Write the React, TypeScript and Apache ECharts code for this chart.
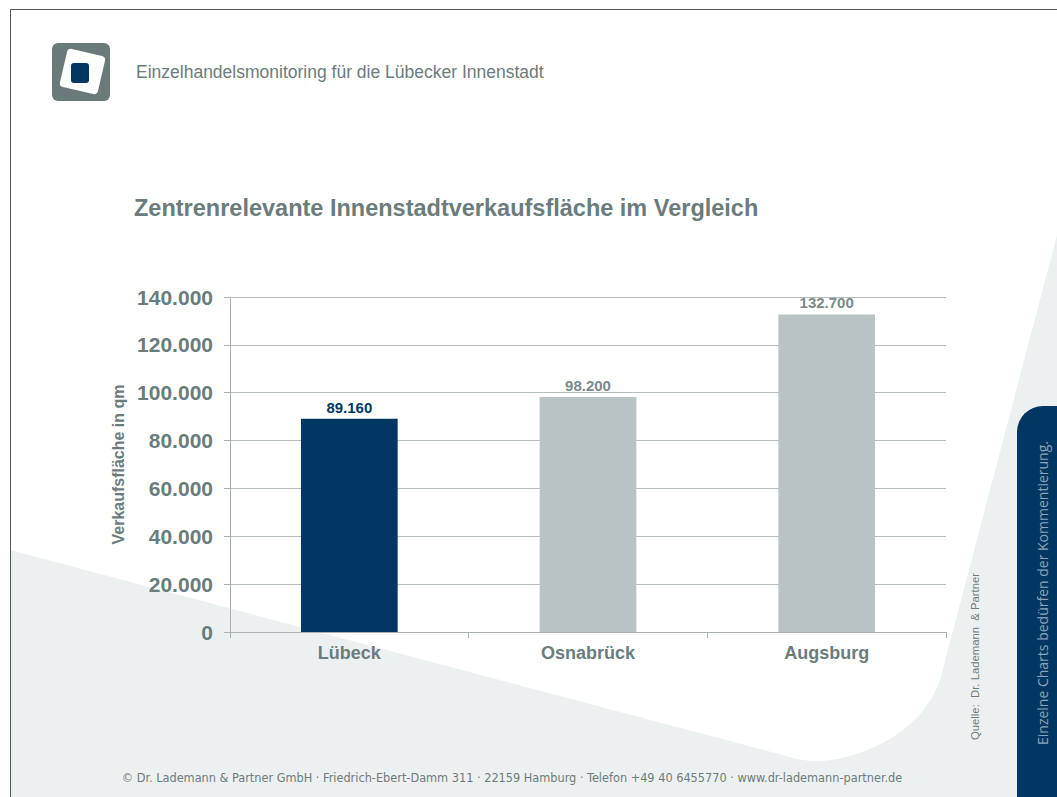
import React, { useEffect, useRef } from "react";
import * as echarts from "echarts";

const categories = ["Lübeck", "Osnabrück", "Augsburg"];
const values = [89160, 98200, 132700];
const barColors = ["#023763", "#b9c3c3", "#b9c3c3"];
const labelColors = ["#023763", "#7b8a8a", "#7b8a8a"];
const yMin = 0;
const yMax = 140000;
const yStep = 20000;

const headerText = "Einzelhandelsmonitoring für die Lübecker Innenstadt";
const titleText = "Zentrenrelevante Innenstadtverkaufsfläche im Vergleich";
const yAxisName = "Verkaufsfläche in qm";
const sourceText = "Quelle:  Dr. Lademann  & Partner";
const tabText = "Einzelne Charts bedürfen der Kommentierung.";
const footerText =
  "© Dr. Lademann & Partner GmbH · Friedrich-Ebert-Damm 311 · 22159 Hamburg · Telefon +49 40 6455770 · www.dr-lademann-partner.de";

const fmt = (v: number) => String(v).replace(/\B(?=(\d{3})+(?!\d))/g, ".");

echarts.graphic.registerShape(
  "bgshape",
  echarts.graphic.extendPath(
    "M10 550 L790 757 Q822 767 862 752 Q922 730 940 680 L1057 235 L1057 797 L10 797 Z",
    {}
  )
);

const GRAY = "#6b7c7c";
const FONT = "'Liberation Sans', Arial, sans-serif";

export default function App() {
  const ref = useRef<HTMLDivElement>(null);
  useEffect(() => {
    if (!ref.current) return;
    const chart = echarts.init(ref.current, undefined, { renderer: "svg" });
    chart.setOption({
      animation: false,
      backgroundColor: "#ffffff",
      textStyle: { fontFamily: FONT },
      grid: { left: 230, right: 111, top: 297, bottom: 165, containLabel: false },
      xAxis: {
        type: "category",
        data: categories,
        axisLine: { lineStyle: { color: "#a9b1b1" } },
        axisTick: { show: true, length: 6, lineStyle: { color: "#a9b1b1" } },
        axisLabel: {
          color: GRAY,
          fontWeight: "bold",
          fontSize: 18,
          fontFamily: FONT,
          margin: 12,
        },
      },
      yAxis: {
        type: "value",
        min: yMin,
        max: yMax,
        interval: yStep,
        name: yAxisName,
        nameLocation: "middle",
        nameGap: 97,
        nameRotate: 90,
        nameTextStyle: { color: GRAY, fontWeight: "bold", fontSize: 16, fontFamily: FONT },
        axisLine: { show: true, lineStyle: { color: "#a9b1b1" } },
        axisTick: { show: true, length: 6, lineStyle: { color: "#a9b1b1" } },
        axisLabel: {
          color: GRAY,
          fontWeight: "bold",
          fontSize: 21,
          fontFamily: FONT,
          margin: 17,
          formatter: (v: number) => fmt(v),
        },
        splitLine: { lineStyle: { color: "#b4bcbc", width: 1 } },
      },
      series: [
        {
          type: "bar",
          barWidth: "40.5%",
          data: values.map((v, i) => ({
            value: v,
            itemStyle: { color: barColors[i] },
            label: { color: labelColors[i] },
          })),
          label: {
            show: true,
            position: "top",
            distance: 4,
            fontWeight: "bold",
            fontSize: 15,
            fontFamily: FONT,
            formatter: (p: any) => fmt(p.value),
          },
        },
      ],
      graphic: [
        { type: "bgshape", x: 0, y: 0, z: -100, silent: true, style: { fill: "#edf0f1" } },
        {
          type: "polyline",
          z: 100,
          shape: { points: [[10.5, 797], [10.5, 9.5], [1057, 9.5]] },
          style: { stroke: "#555555", lineWidth: 1, fill: null },
        },
        {
          type: "rect",
          z: 100,
          shape: { x: 52, y: 43, width: 58, height: 58, r: 6 },
          style: { fill: "#6a7a79" },
        },
        {
          type: "rect",
          z: 101,
          x: 82.5,
          y: 71.5,
          rotation: -0.23,
          shape: { x: -19.5, y: -19.5, width: 39, height: 39, r: 4 },
          style: { fill: "#ffffff" },
        },
        {
          type: "rect",
          z: 102,
          shape: { x: 71, y: 63, width: 18, height: 20, r: 3 },
          style: { fill: "#023763" },
        },
        {
          type: "text",
          z: 100,
          x: 136,
          y: 72,
          style: {
            text: headerText,
            fill: GRAY,
            font: "17.5px " + FONT,
            textVerticalAlign: "middle",
          },
        },
        {
          type: "text",
          z: 100,
          x: 134,
          y: 208,
          style: {
            text: titleText,
            fill: GRAY,
            font: "bold 23.5px " + FONT,
            textVerticalAlign: "middle",
          },
        },
        {
          type: "rect",
          z: 100,
          shape: { x: 1017, y: 406, width: 50, height: 400, r: [26, 0, 0, 0] },
          style: { fill: "#023763" },
        },
        {
          type: "text",
          z: 101,
          x: 1042,
          y: 745,
          rotation: Math.PI / 2,
          style: {
            text: tabText,
            fill: "#8ea3b7",
            font: "14px 'Open Sans', sans-serif",
            textAlign: "left",
            textVerticalAlign: "middle",
          },
        },
        {
          type: "text",
          z: 100,
          x: 975,
          y: 740,
          rotation: Math.PI / 2,
          style: {
            text: sourceText,
            fill: GRAY,
            font: "11.3px " + FONT,
            textAlign: "left",
            textVerticalAlign: "middle",
          },
        },
        {
          type: "text",
          z: 100,
          x: 512,
          y: 777,
          style: {
            text: footerText,
            fill: GRAY,
            font: "12.6px 'DejaVu Sans Condensed', sans-serif",
            textAlign: "center",
            textVerticalAlign: "middle",
          },
        },
      ],
    });
    return () => chart.dispose();
  }, []);
  return (
    <div
      ref={ref}
      style={{ position: "absolute", left: 0, top: 0, width: 1057, height: 797 }}
    />
  );
}
